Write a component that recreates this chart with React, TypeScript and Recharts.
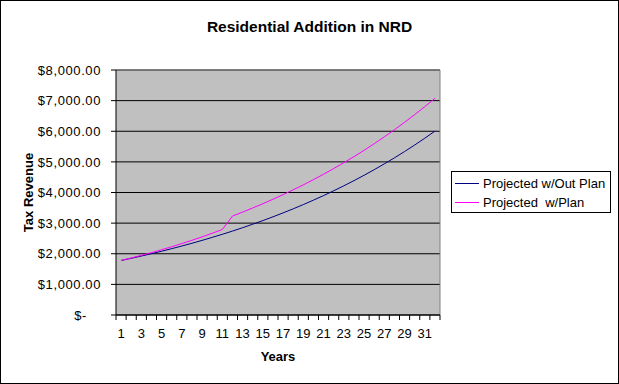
import React from 'react';
import { LineChart, Line, XAxis, YAxis, CartesianGrid } from 'recharts';

const YEARS = [1, 2, 3, 4, 5, 6, 7, 8, 9, 10, 11, 12, 13, 14, 15, 16, 17, 18, 19, 20, 21, 22, 23, 24, 25, 26, 27, 28, 29, 30, 31, 32];

const WITHOUT_PLAN = [
  1780, 1851, 1925, 2002, 2082, 2166, 2252, 2342, 2436, 2534, 2635, 2740, 2850, 2964, 3082, 3206,
  3334, 3467, 3606, 3750, 3900, 4056, 4218, 4387, 4562, 4745, 4935, 5132, 5337, 5551, 5773, 6004,
];

const WITH_PLAN = [
  1780, 1862, 1948, 2037, 2131, 2229, 2332, 2439, 2551, 2669, 2790, 3230, 3359, 3494, 3633, 3779,
  3930, 4087, 4250, 4420, 4597, 4781, 4973, 5171, 5378, 5593, 5817, 6050, 6292, 6543, 6805, 7077,
];

const Y_TICKS = [0, 1000, 2000, 3000, 4000, 5000, 6000, 7000, 8000];

const SERIES = [
  { key: 'withoutPlan', name: 'Projected w/Out Plan', color: '#000080' },
  { key: 'withPlan', name: 'Projected  w/Plan', color: '#ff00ff' },
];

const data = YEARS.map((year, i) => ({ year, withoutPlan: WITHOUT_PLAN[i], withPlan: WITH_PLAN[i] }));

const FONT = '"Liberation Sans", Arial, sans-serif';
const PLOT_LEFT = 116;
const PLOT_TOP = 70;
const PLOT_RIGHT = 440;
const PLOT_BOTTOM = 315;
const BAND = (PLOT_RIGHT - PLOT_LEFT) / YEARS.length;

const money = (v: number) =>
  v === 0 ? '$-' : '$' + v.toLocaleString('en-US', { minimumFractionDigits: 2, maximumFractionDigits: 2 });

const YTick = (props: any) => {
  const { x, y, payload } = props;
  const dx = payload.value === 0 ? -14 : 0;
  return (
    <text x={x + dx} y={y} dy="0.36em" textAnchor="end" fill="#000" fontSize={13} letterSpacing={0.6} fontFamily={FONT}>
      {money(payload.value)}
    </text>
  );
};

const XTick = (props: any) => {
  const { x, y, payload, index } = props;
  const half = BAND / 2;
  return (
    <g>
      <line x1={x - half} y1={y} x2={x - half} y2={y + 5} stroke="#000" />
      {index === YEARS.length - 1 && <line x1={x + half} y1={y} x2={x + half} y2={y + 5} stroke="#000" />}
      {index % 2 === 0 && (
        <text x={x} y={y + 23} textAnchor="middle" fill="#000" fontSize={13} fontFamily={FONT}>
          {payload.value}
        </text>
      )}
    </g>
  );
};

export default function App() {
  return (
    <div style={{ position: 'absolute', left: 0, top: 0, width: 619, height: 384, background: '#fff', fontFamily: FONT }}>
      <div
        style={{
          position: 'absolute', left: 0, top: 19, width: 619, textAlign: 'center',
          fontSize: 15.5, lineHeight: '16px', fontWeight: 'bold', color: '#000',
        }}
      >
        Residential Addition in NRD
      </div>

      <div style={{ position: 'absolute', left: 0, top: 0 }}>
        <LineChart
          width={619}
          height={384}
          data={data}
          margin={{ top: PLOT_TOP, right: 619 - PLOT_RIGHT, bottom: 19, left: 16 }}
        >
          <CartesianGrid fill="#c0c0c0" fillOpacity={1} stroke="#000" vertical={false} />
          <CartesianGrid stroke="#808080" horizontalPoints={[PLOT_TOP]} verticalPoints={[PLOT_RIGHT]} />
          <XAxis
            dataKey="year"
            scale="band"
            interval={0}
            height={50}
            tickLine={false}
            tickSize={0}
            tickMargin={0}
            axisLine={{ stroke: '#000' }}
            tick={<XTick />}
            label={{ value: 'Years', position: 'insideBottom', offset: 4, fill: '#000', fontSize: 13, fontWeight: 'bold', fontFamily: FONT }}
          />
          <YAxis
            width={100}
            domain={[0, 8000]}
            ticks={Y_TICKS}
            interval={0}
            tickSize={5}
            tickMargin={10}
            tickLine={{ stroke: '#000' }}
            axisLine={{ stroke: '#000' }}
            tick={<YTick />}
            label={{
              value: 'Tax Revenue', angle: -90, position: 'insideLeft', offset: 12,
              fill: '#000', fontSize: 13, fontWeight: 'bold', fontFamily: FONT, style: { textAnchor: 'middle' },
            }}
          />
          {SERIES.map((s) => (
            <Line
              key={s.key}
              type="linear"
              dataKey={s.key}
              name={s.name}
              stroke={s.color}
              strokeWidth={1}
              dot={false}
              activeDot={false}
              isAnimationActive={false}
            />
          ))}
        </LineChart>
      </div>

      <div
        style={{
          position: 'absolute', left: 451, top: 171, width: 160, height: 42, boxSizing: 'border-box',
          border: '1px solid #000', background: '#fff', paddingTop: 2,
        }}
      >
        {SERIES.map((s) => (
          <div key={s.key} style={{ display: 'flex', alignItems: 'center', height: 19 }}>
            <span style={{ display: 'inline-block', marginLeft: 3, width: 24, height: 1, background: s.color }} />
            <span style={{ marginLeft: 4, fontSize: 13, whiteSpace: 'pre', color: '#000' }}>{s.name}</span>
          </div>
        ))}
      </div>

      <div style={{ position: 'absolute', left: 0, top: 0, width: 619, height: 384, boxSizing: 'border-box', border: '1px solid #000', pointerEvents: 'none' }} />
    </div>
  );
}
